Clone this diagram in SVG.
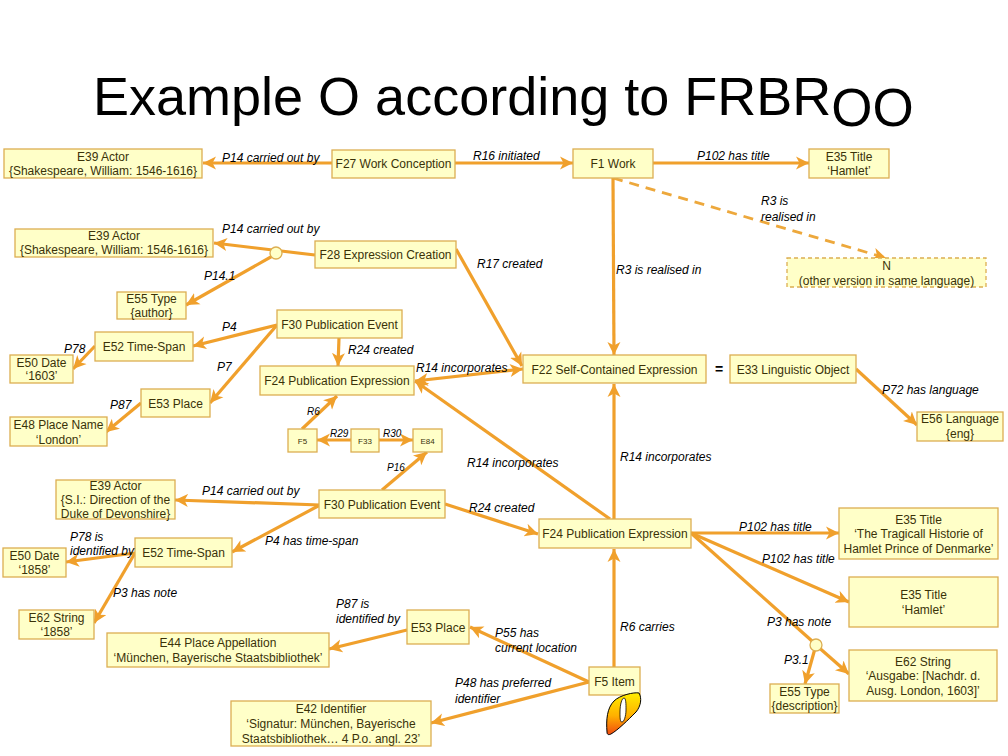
<svg xmlns="http://www.w3.org/2000/svg" width="1008" height="756" viewBox="0 0 1008 756">
<style>
text{font-family:"Liberation Sans",Arial,sans-serif}
.n rect{fill:#ffffc8;stroke:#dcae52;stroke-width:1.3}
.n text{font-size:12px;fill:#3a3208;text-anchor:middle}
.n text.s{font-size:8px}
.c line{stroke:#f0a02c;stroke-width:3.2;fill:none;marker-end:url(#a)}
.c line.p{marker-end:none}
.c line.d{stroke-dasharray:10 7;stroke-width:2.8;stroke:#eda83c}
.l text{font-size:12px;font-style:italic;fill:#000}
.l text.s{font-size:10px}
.j{fill:#ffffc8;stroke:#dcae52;stroke-width:1.3}
</style>
<defs>
<marker id="a" markerUnits="userSpaceOnUse" markerWidth="16" markerHeight="16" refX="13" refY="7" orient="auto"><path d="M0 0.500L13 7L0 13.500L3.500 7Z" fill="#f0a02c"/></marker>
<marker id="b" markerUnits="userSpaceOnUse" markerWidth="16" markerHeight="16" refX="0" refY="7" orient="auto"><path d="M13 0.500L0 7L13 13.500L9.500 7Z" fill="#f0a02c"/></marker>
<linearGradient id="og" x1="0" y1="0" x2="0" y2="1"><stop offset="0" stop-color="#ffee00"/><stop offset="0.55" stop-color="#ffb000"/><stop offset="1" stop-color="#f04a10"/></linearGradient>
</defs>
<text id="title" x="93" y="115" font-size="54" fill="#000">Example O according to FRBR<tspan font-size="53" dy="11">OO</tspan></text>
<g id="connectors" class="c">
<line x1="332" y1="163" x2="203" y2="163"/>
<line x1="455" y1="163" x2="573" y2="163"/>
<line x1="653" y1="163" x2="809" y2="163"/>
<line class="d" x1="613" y1="178" x2="886" y2="258"/>
<line x1="613" y1="178" x2="614" y2="355"/>
<line x1="456" y1="249" x2="522" y2="366"/>
<line x1="315" y1="255" x2="214" y2="243"/>
<line x1="276" y1="254" x2="186" y2="305"/>
<line x1="277" y1="325" x2="193" y2="346"/>
<line x1="277" y1="325" x2="210" y2="403"/>
<line x1="95" y1="346" x2="73" y2="369"/>
<line x1="141" y1="403" x2="106" y2="432"/>
<line x1="339" y1="338" x2="338" y2="366"/>
<line x1="415" y1="381" x2="523" y2="369" style="marker-start:url(#b)"/>
<line x1="302" y1="429" x2="337" y2="396"/>
<line x1="351" y1="440" x2="317" y2="440"/>
<line x1="379" y1="440" x2="413" y2="440"/>
<line x1="382" y1="490" x2="427" y2="452"/>
<line x1="445" y1="504" x2="538" y2="534"/>
<line x1="610" y1="519" x2="415" y2="381"/>
<line x1="614" y1="519" x2="614" y2="384"/>
<line x1="614" y1="667" x2="614" y2="549"/>
<line x1="589" y1="682" x2="470" y2="627"/>
<line x1="589" y1="682" x2="431" y2="723"/>
<line x1="407" y1="630" x2="329" y2="649"/>
<line x1="320" y1="505" x2="175" y2="500"/>
<line x1="320" y1="505" x2="232" y2="552"/>
<line x1="135" y1="553" x2="66" y2="562"/>
<line x1="135" y1="553" x2="94" y2="623"/>
<line x1="691" y1="533" x2="839" y2="533"/>
<line x1="691" y1="533" x2="849" y2="602"/>
<line class="p" x1="691" y1="533" x2="812" y2="641"/>
<line x1="816" y1="645" x2="849" y2="674"/>
<line x1="816" y1="645" x2="805" y2="684"/>
<line x1="856" y1="369" x2="917" y2="425"/>
</g>
<circle id="junction1" class="j" cx="276" cy="253" r="6"/>
<circle id="junction2" class="j" cx="816" cy="645" r="6"/>
<g id="e39a" class="n"><rect x="4" y="149" width="198" height="29"/><text x="103" y="161">E39 Actor</text><text x="103" y="175">{Shakespeare, William: 1546-1616}</text></g>
<g id="f27" class="n"><rect x="332" y="150" width="123" height="28"/><text x="393.500" y="168">F27 Work Conception</text></g>
<g id="f1" class="n"><rect x="573" y="149" width="80" height="29"/><text x="613" y="168">F1 Work</text></g>
<g id="e35a" class="n"><rect x="809" y="149" width="80" height="29"/><text x="849" y="161">E35 Title</text><text x="849" y="175">‘Hamlet’</text></g>
<g id="e39b" class="n"><rect x="15" y="229" width="198" height="28"/><text x="114" y="240">E39 Actor</text><text x="114" y="254">{Shakespeare, William: 1546-1616}</text></g>
<g id="f28" class="n"><rect x="315" y="241" width="141" height="27"/><text x="385.500" y="259">F28 Expression Creation</text></g>
<g id="e55a" class="n"><rect x="117" y="292" width="69" height="27"/><text x="151.500" y="303">E55 Type</text><text x="151.500" y="317">{author}</text></g>
<g id="f30a" class="n"><rect x="277" y="310" width="125" height="28"/><text x="339.500" y="329">F30 Publication Event</text></g>
<g id="e52a" class="n"><rect x="95" y="332" width="98" height="29"/><text x="144" y="351">E52 Time-Span</text></g>
<g id="e50a" class="n"><rect x="10" y="355" width="63" height="28"/><text x="41.500" y="367">E50 Date</text><text x="41.500" y="380">‘1603’</text></g>
<g id="e53a" class="n"><rect x="141" y="389" width="69" height="28"/><text x="175.500" y="408">E53 Place</text></g>
<g id="e48" class="n"><rect x="10" y="417" width="97" height="29"/><text x="58.500" y="429">E48 Place Name</text><text x="58.500" y="444">‘London’</text></g>
<g id="f24a" class="n"><rect x="260" y="366" width="154" height="29"/><text x="337" y="385">F24 Publication Expression</text></g>
<g id="f5a" class="n"><rect x="288" y="429" width="29" height="23"/><text class="s" x="302.500" y="444">F5</text></g>
<g id="f33" class="n"><rect x="351" y="429" width="28" height="23"/><text class="s" x="365" y="444">F33</text></g>
<g id="e84" class="n"><rect x="413" y="429" width="29" height="23"/><text class="s" x="427.500" y="444">E84</text></g>
<g id="f22" class="n"><rect x="523" y="355" width="183" height="28"/><text x="614.500" y="374">F22 Self-Contained Expression</text></g>
<g id="e33" class="n"><rect x="730" y="355" width="126" height="28"/><text x="793" y="374">E33 Linguistic Object</text></g>
<text id="equals" x="719" y="374" font-size="14" font-weight="bold" text-anchor="middle" fill="#000">=</text>
<g id="e56" class="n"><rect x="917" y="412" width="86" height="29"/><text x="960" y="423">E56 Language</text><text x="960" y="438">{eng}</text></g>
<g id="n" class="n"><rect x="787" y="258" width="199" height="29" style="stroke-dasharray:4 3"/><text x="886.500" y="270">N</text><text x="886.500" y="285">(other version in same language)</text></g>
<g id="e39c" class="n"><rect x="56" y="480" width="119" height="39"/><text x="115.500" y="490">E39 Actor</text><text x="115.500" y="504">{S.I.: Direction of the</text><text x="115.500" y="518">Duke of Devonshire}</text></g>
<g id="f30b" class="n"><rect x="319" y="490" width="126" height="28"/><text x="382" y="509">F30 Publication Event</text></g>
<g id="f24b" class="n"><rect x="539" y="519" width="152" height="29"/><text x="615" y="538">F24 Publication Expression</text></g>
<g id="e52b" class="n"><rect x="135" y="538" width="97" height="29"/><text x="183.500" y="557">E52 Time-Span</text></g>
<g id="e50b" class="n"><rect x="3" y="548" width="63" height="29"/><text x="34.500" y="560">E50 Date</text><text x="34.500" y="574">‘1858’</text></g>
<g id="e62a" class="n"><rect x="19" y="610" width="75" height="29"/><text x="56.500" y="622">E62 String</text><text x="56.500" y="636">‘1858’</text></g>
<g id="e44" class="n"><rect x="107" y="633" width="222" height="34"/><text x="218" y="647">E44 Place Appellation</text><text x="218" y="662">‘München, Bayerische Staatsbibliothek’</text></g>
<g id="e53b" class="n"><rect x="407" y="610" width="62" height="34"/><text x="438" y="632">E53 Place</text></g>
<g id="e42" class="n"><rect x="231" y="701" width="200" height="45"/><text x="331" y="713">E42 Identifier</text><text x="331" y="728">‘Signatur: München, Bayerische</text><text x="331" y="743">Staatsbibliothek… 4 P.o. angl. 23’</text></g>
<g id="f5b" class="n"><rect x="589" y="667" width="51" height="28"/><text x="614.500" y="686">F5 Item</text></g>
<g id="o-icon"><path d="M607 732C606 720 607 708 614 701C620 695 634 692 639 693C642 698 641 706 636 712C628 720 618 730 611 734C609 735 607 735 607 732Z" fill="url(#og)" stroke="#000" stroke-width="1"/><path d="M620 712C620 704 622 698 624 698C626 698 626 704 626 710C626 716 624 722 622 722C620 722 620 718 620 712Z" fill="#fff" stroke="#000" stroke-width="0.800"/></g>
<g id="e35b" class="n"><rect x="839" y="508" width="159" height="51"/><text x="918.500" y="524">E35 Title</text><text x="918.500" y="538">‘The Tragicall Historie of</text><text x="918.500" y="553">Hamlet Prince of Denmarke’</text></g>
<g id="e35c" class="n"><rect x="849" y="577" width="149" height="50"/><text x="923.500" y="599">E35 Title</text><text x="923.500" y="614">‘Hamlet’</text></g>
<g id="e62b" class="n"><rect x="849" y="650" width="148" height="51"/><text x="923" y="666">E62 String</text><text x="923" y="680">‘Ausgabe: [Nachdr. d.</text><text x="923" y="695">Ausg. London, 1603]’</text></g>
<g id="e55b" class="n"><rect x="770" y="684" width="69" height="29"/><text x="804.500" y="696">E55 Type</text><text x="804.500" y="710">{description}</text></g>
<g id="labels" class="l">
<text x="222" y="162">P14 carried out by</text>
<text x="473" y="160">R16 initiated</text>
<text x="697" y="160">P102 has title</text>
<text x="761" y="205">R3 is</text>
<text x="761" y="221">realised in</text>
<text x="222" y="233">P14 carried out by</text>
<text x="204" y="280">P14.1</text>
<text x="477" y="268">R17 created</text>
<text x="616" y="274">R3 is realised in</text>
<text x="222" y="331">P4</text>
<text x="217" y="371">P7</text>
<text x="64" y="353">P78</text>
<text x="110" y="409">P87</text>
<text x="348" y="354">R24 created</text>
<text x="416" y="372">R14 incorporates</text>
<text class="s" x="307" y="415">R6</text>
<text class="s" x="330" y="437">R29</text>
<text class="s" x="383" y="437">R30</text>
<text class="s" x="387" y="471">P16</text>
<text x="467" y="467">R14 incorporates</text>
<text x="620" y="461">R14 incorporates</text>
<text x="202" y="495">P14 carried out by</text>
<text x="70" y="541">P78 is</text>
<text x="70" y="555">identified by</text>
<text x="265" y="545">P4 has time-span</text>
<text x="113" y="597">P3 has note</text>
<text x="469" y="512">R24 created</text>
<text x="739" y="531">P102 has title</text>
<text x="762" y="563">P102 has title</text>
<text x="336" y="608">P87 is</text>
<text x="336" y="623">identified by</text>
<text x="495" y="637">P55 has</text>
<text x="495" y="652">current location</text>
<text x="620" y="631">R6 carries</text>
<text x="767" y="626">P3 has note</text>
<text x="784" y="664">P3.1</text>
<text x="455" y="687">P48 has preferred</text>
<text x="455" y="703">identifier</text>
<text x="882" y="394">P72 has language</text>
</g>
</svg>
